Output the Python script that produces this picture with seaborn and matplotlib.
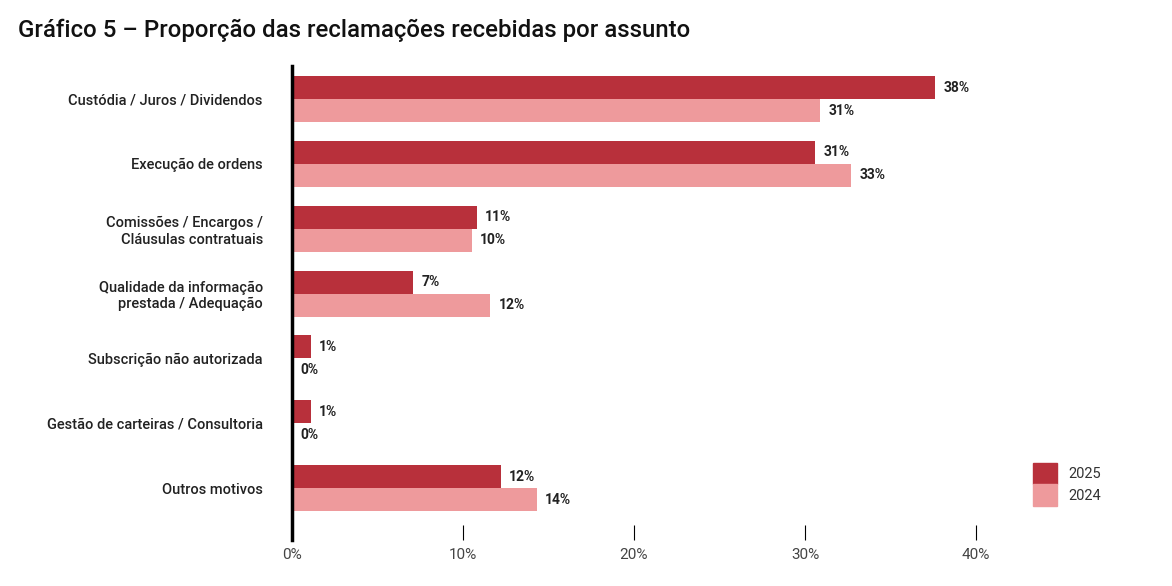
import numpy as np
import pandas as pd
import matplotlib.pyplot as plt
import matplotlib.patches as mpatches
import seaborn as sns

categories = ['Custódia / Juros / Dividendos', 'Execução de ordens',
              'Comissões / Encargos /\nCláusulas contratuais',
              'Qualidade da informação\nprestada / Adequação',
              'Subscrição não autorizada', 'Gestão de carteiras / Consultoria',
              'Outros motivos']
vals_2025 = [37.6, 30.6, 10.8, 7.1, 1.1, 1.1, 12.2]
vals_2024 = [30.9, 32.7, 10.5, 11.6, 0.0, 0.0, 14.3]
labels_2025 = ['38%', '31%', '11%', '7%', '1%', '1%', '12%']
labels_2024 = ['31%', '33%', '10%', '12%', '0%', '0%', '14%']
years = ['2025', '2024']
colors = ['#B8303B', '#EE9A9C']

df = pd.DataFrame({
    'cat': categories * 2,
    'val': vals_2025 + vals_2024,
    'year': ['2025'] * 7 + ['2024'] * 7,
})

sns.set_style('white')
plt.rcParams['font.family'] = ['Roboto', 'DejaVu Sans']

fig = plt.figure(figsize=(11.72, 5.86), dpi=100)
ax = fig.add_axes([292 / 1172, 1 - 540 / 586, (45 * 17.1) / 1172, (540 - 66) / 586])

sns.barplot(data=df, y='cat', x='val', hue='year', hue_order=years,
            palette=colors, orient='h', width=0.71, ax=ax, legend=False,
            saturation=1, linewidth=0)

for cont, labs in zip(ax.containers, [labels_2025, labels_2024]):
    ax.bar_label(cont, labels=labs, padding=6, fontsize=10,
                 fontweight='bold', color='#222222')

ax.set_xlim(0, 45)
ax.set_ylim(6.8, -0.51)
ax.set_xticks([0, 10, 20, 30, 40])
ax.set_xticklabels(['0%', '10%', '20%', '30%', '40%'], fontsize=11, color='#444444')
ax.tick_params(axis='x', bottom=True, direction='in', length=11, width=0.8,
               color='black', pad=6)
ax.tick_params(axis='y', left=False, length=0, pad=21, labelsize=10.5)
for t in ax.get_yticklabels():
    t.set_horizontalalignment('right')
    t.set_multialignment('right')
    t.set_color('#222222')
    t.set_fontweight('medium')
ax.set_xlabel('')
ax.set_ylabel('')
for s in ['top', 'right', 'bottom']:
    ax.spines[s].set_visible(False)
ax.spines['left'].set_linewidth(2.5)
ax.spines['left'].set_color('black')

handles = [mpatches.Patch(color=c, label=y) for c, y in zip(colors, years)]
leg = fig.legend(handles=handles, loc='lower left', bbox_to_anchor=(1026 / 1172, 1 - 513 / 586),
                 frameon=False, handlelength=1.6, handleheight=1.9, labelspacing=0,
                 handletextpad=0.8, fontsize=10.5, borderpad=0)
for t in leg.get_texts():
    t.set_color('#333333')

fig.text(18 / 1172, 1 - 30 / 586, 'Gráfico 5 – Proporção das reclamações recebidas por assunto',
         fontsize=17.3, fontweight='medium', color='#111111', va='center')

fig.savefig('out.png', dpi=100)
